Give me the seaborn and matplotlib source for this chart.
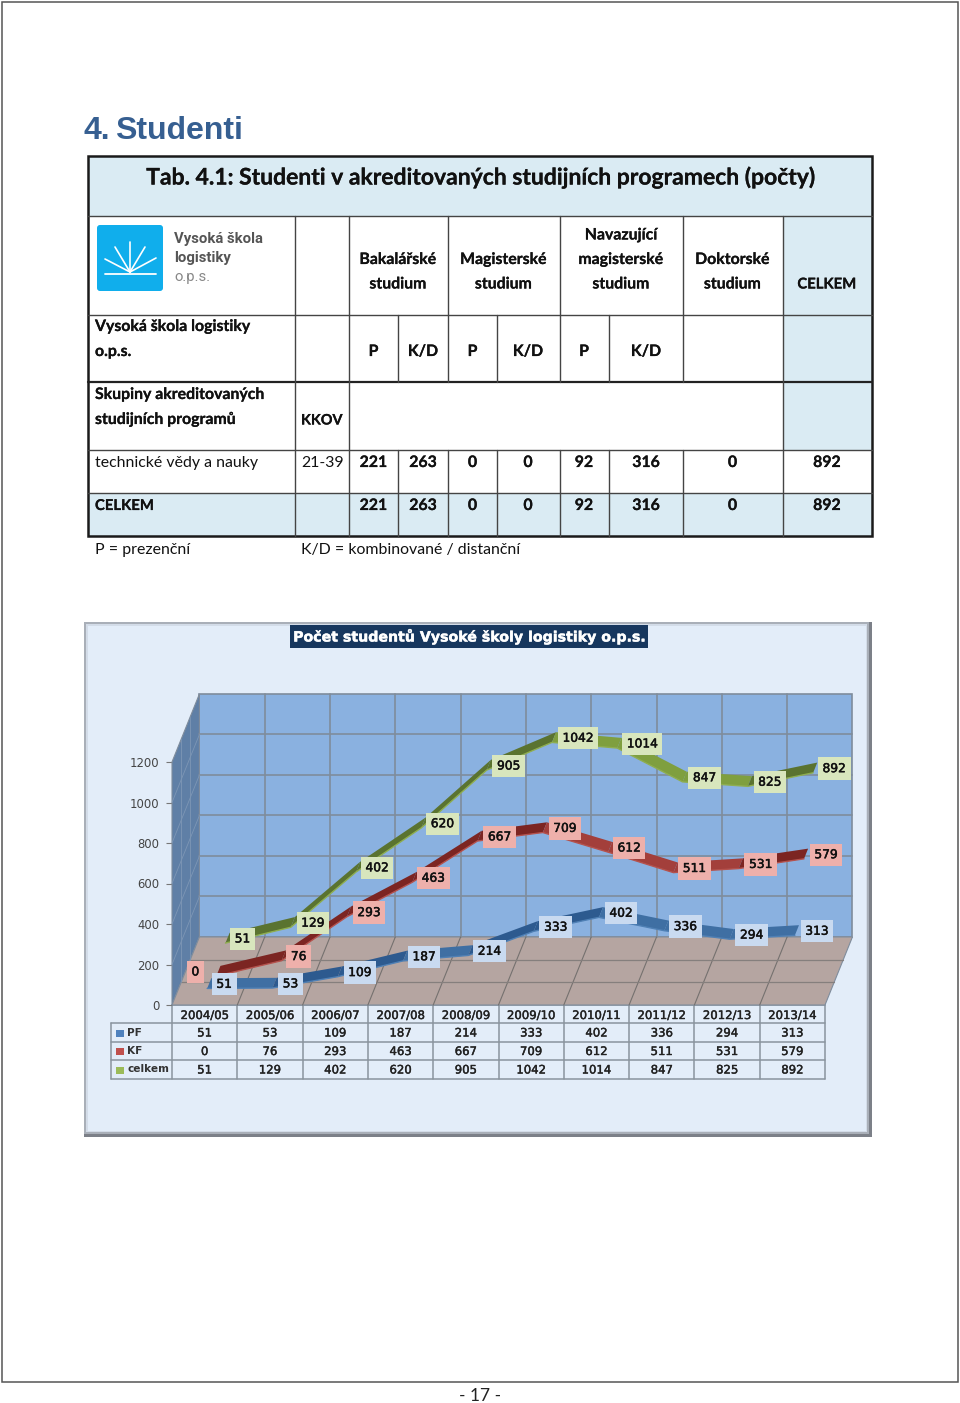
import numpy as np
import seaborn as sns
import matplotlib
matplotlib.use('Agg')
import matplotlib.pyplot as plt
import matplotlib.patheffects as pe
from matplotlib.patches import Rectangle, FancyBboxPatch

# chart data
years = ['2004/05', '2005/06', '2006/07', '2007/08', '2008/09', '2009/10', '2010/11', '2011/12', '2012/13', '2013/14']
pf = [51, 53, 109, 187, 214, 333, 402, 336, 294, 313]
kf = [0, 76, 293, 463, 667, 709, 612, 511, 531, 579]
celkem = [51, 129, 402, 620, 905, 1042, 1014, 847, 825, 892]
y_ticks = [0, 200, 400, 600, 800, 1000, 1200]

# label offsets in pixels from the data point
pf_dx = [15, 16, 20, 19, 19, 20, 20, 19, 20, 20]
kf_dx = [-23, 15, 20, 19, 20, 20, 19, 19, 20, 20]
celkem_dx = [15, 20, 19, 19, 20, 24, 23, 20, 20, 19]

# top table text
title = 'Tab. 4.1: Studenti v akreditovaných studijních programech (počty)'
col_heads = [(398, ['Bakalářské', 'studium']), (503.5, ['Magisterské', 'studium']),
             (621, ['Navazující', 'magisterské', 'studium']), (732.5, ['Doktorské', 'studium'])]
sub_heads = [(373.5, 'P'), (423, 'K/D'), (472.5, 'P'), (528, 'K/D'), (584, 'P'), (646, 'K/D')]
value_cols = [373.5, 423, 472.5, 528, 584, 646, 732.5, 827]
row_values = ['221', '263', '0', '0', '92', '316', '0', '892']

sns.set_theme(style='white')
plt.rcParams['font.family'] = ['Lato', 'DejaVu Sans']

fig = plt.figure(figsize=(9.6, 14.03), dpi=100, facecolor='white')
page = fig.add_axes([0, 0, 1, 1], zorder=1)
page.set_xlim(0, 960)
page.set_ylim(1403, 0)
page.axis('off')

# page frame and heading
page.add_patch(Rectangle((2, 2), 956, 1380, fill=False, ec='#555555', lw=1.1))
page.text(84, 139, '4.', fontsize=23, color='#365f91', fontweight='bold',
          family='Liberation Sans', ha='left', va='baseline')
page.text(115, 139, 'Studenti', fontsize=23, color='#365f91', fontweight='bold',
          family='Liberation Sans', ha='left', va='baseline')
page.text(480, 1396, '- 17 -', fontsize=12.5, color='#222222', ha='center', va='center')

# table fills
light = '#daebf3'
for x0, y0, x1, y1 in [(88, 156, 872, 216), (783, 216, 872, 382), (783, 382, 872, 450), (88, 493, 872, 536)]:
    page.add_patch(Rectangle((x0, y0), x1 - x0, y1 - y0, fc=light, ec='none'))

# table lines
line = '#444444'
for y in [216, 315, 450, 493]:
    page.plot([88, 872], [y, y], color=line, lw=1.0)
page.plot([88, 872], [382, 382], color='#222222', lw=1.6)
for x, y0, y1 in [(295, 216, 536), (349, 216, 536), (448, 216, 382), (560, 216, 382), (683, 216, 382),
                  (783, 216, 536), (398, 315, 382), (497, 315, 382), (609, 315, 382),
                  (398, 450, 536), (448, 450, 536), (497, 450, 536), (560, 450, 536),
                  (609, 450, 536), (683, 450, 536)]:
    page.plot([x, x], [y0, y1], color=line, lw=1.0)
page.add_patch(Rectangle((88, 156), 784, 380, fill=False, ec='#1a1a1a', lw=1.8))

# table text
cell = dict(fontsize=11.4, color='#111111', va='center')
heavy = dict(fontweight='bold', path_effects=[pe.withStroke(linewidth=0.15, foreground='#111111')])
page.text(480, 177.5, title, fontsize=16.5, color='#111111', ha='center', va='center', **heavy)
for x, lines in col_heads:
    for k, s in enumerate(reversed(lines)):
        page.text(x, 284.5 - 24.5 * k, s, ha='center', **cell, **heavy)
page.text(827, 284.5, 'CELKEM', ha='center', fontsize=10.7, color='#111111', va='center', **heavy)
page.text(95, 327, 'Vysoká škola logistiky', **cell, **heavy)
page.text(95, 352, 'o.p.s.', **cell, **heavy)
for x, s in sub_heads:
    page.text(x, 352, s, ha='center', **cell, **heavy)
page.text(95, 395, 'Skupiny akreditovaných', **cell, **heavy)
page.text(95, 420, 'studijních programů', **cell, **heavy)
page.text(301, 420.5, 'KKOV', fontsize=10.4, color='#111111', va='center', **heavy)
page.text(95, 463, 'technické vědy a nauky', **cell)
page.text(301, 463, '21-39', **cell)
page.text(95, 506, 'CELKEM', fontsize=10.7, color='#111111', va='center', **heavy)
for y in [463, 506]:
    for x, s in zip(value_cols, row_values):
        page.text(x, y, s, ha='center', **cell, **heavy)
page.text(95, 550, 'P = prezenční', **cell)
page.text(301, 550, 'K/D = kombinované / distanční', **cell)

# logo
page.add_patch(FancyBboxPatch((99, 227), 62, 62, boxstyle='round,pad=2,rounding_size=3', fc='#10aeec', ec='none'))
page.plot([105, 156], [273.5, 273.5], color='white', lw=1.3)
for rx, ry in [(130, 242), (115, 247), (145, 247), (105, 259), (156, 258)]:
    page.plot([130, rx], [272, ry], color='white', lw=1.2)
page.text(174, 239, 'Vysoká škola', fontsize=10.7, fontweight='bold', family='Roboto', color='#555555', va='center')
page.text(174, 258, 'logistiky', fontsize=10.7, fontweight='bold', family='Roboto', color='#555555', va='center')
page.text(174, 277, 'o.p.s.', fontsize=10.7, family='Roboto', color='#888888', va='center')

# chart panel
page.add_patch(Rectangle((84, 622), 788, 515, fc='#7c8088', ec='none'))
page.add_patch(Rectangle((84, 622), 785, 512, fc='#a9afb8', ec='none'))
page.add_patch(Rectangle((86, 624), 781, 508, fc='#d3dce8', ec='none'))
page.add_patch(Rectangle((88, 626), 778, 505, fc='#e3edf9', ec='none'))
page.add_patch(Rectangle((290, 625), 358, 23, fc='#17375e', ec='none'))
page.text(469, 636.5, 'Počet studentů Vysoké školy logistiky o.p.s.', fontsize=10.2, fontweight='bold',
          family='DejaVu Sans', color='white', ha='center', va='center',
          path_effects=[pe.withStroke(linewidth=0.3, foreground='white')])

# chart axes, the front plane of the 3d box
ax = fig.add_axes([172 / 960, 1 - 1005 / 1403, 653 / 960, 243 / 1403], zorder=2)
ax.patch.set_alpha(0)
DX, DY = 0.42, 336  # depth of the box in data units


def proj(x, y, d):
    return np.asarray(x, dtype=float) + DX * d, np.asarray(y, dtype=float) + DY * d


grid = '#7f8c9c'
xl, xr = -0.5, 9.5
# walls and floor
bx, by = proj([xl, xr, xr, xl], [0, 0, 1200, 1200], 1)
ax.fill(bx, by, fc='#8ab1e0', ec=grid, lw=1.2, clip_on=False, zorder=1)
lx = [xl, xl + DX, xl + DX, xl]
ly = [0, DY, 1200 + DY, 1200]
ax.fill(lx, ly, fc='#5f7fa6', ec=grid, lw=0.8, clip_on=False, zorder=1)
fx = [xl, xr, xr + DX, xl + DX]
fy = [0, 0, DY, DY]
ax.fill(fx, fy, fc='#b5a5a1', ec=grid, lw=0.8, clip_on=False, zorder=1)
for v in y_ticks[1:-1]:
    gx, gy = proj([xl, xr], [v, v], 1)
    ax.plot(gx, gy, color=grid, lw=1.2, clip_on=False, zorder=2)
    ax.plot(lx[:2], [v, v + DY], color='#7d96b5', lw=0.6, clip_on=False, zorder=2)
for k in range(1, 10):
    gx, gy = proj([xl + k, xl + k], [0, 1200], 1)
    ax.plot(gx, gy, color=grid, lw=1.2, clip_on=False, zorder=2)
    ax.plot([xl + k, xl + k + DX], [0, DY], color='#75716f', lw=0.8, clip_on=False, zorder=2)
for d in [1 / 3, 2 / 3]:
    gx, gy = proj([xl, xr], [0, 0], d)
    ax.plot(gx, gy, color='#857f7d', lw=0.9, clip_on=False, zorder=2)
    wx, wy = proj([xl, xl], [0, 1200], d)
    ax.plot(wx, wy, color='#7d96b5', lw=0.6, clip_on=False, zorder=2)

# ribbons
xs = np.arange(len(years))
series = [
    (celkem, 5 / 6, '#5a7330', '#7f9f3f', '#8fae4f', '#d8e6bd', celkem_dx),
    (kf, 3 / 6, '#7c2522', '#a33f3b', '#b5524d', '#eeb0ab', kf_dx),
    (pf, 1 / 6, '#2d5a8f', '#3f6fa3', '#4f80b5', '#c9daf0', pf_dx),
]
half = 0.075
for vals, d, dark, mid, edge, box, dxs in series:
    for i in range(len(vals) - 1):
        seg_x = [xs[i], xs[i + 1]]
        seg_y = [vals[i], vals[i + 1]]
        x0, y0 = proj(seg_x, seg_y, d - half)
        x1, y1 = proj(seg_x, seg_y, d + half)
        ax.fill(np.r_[x0, x1[::-1]], np.r_[y0, y1[::-1]], fc=dark if vals[i + 1] > vals[i] + 40 else mid,
                ec='none', clip_on=False, zorder=3)
    ex, ey = proj(xs, vals, d - half)
    sns.lineplot(x=ex, y=ey, color=edge, lw=1.0, sort=False, estimator=None, legend=False, ax=ax,
                 clip_on=False, zorder=4)
    px, py = proj(xs, vals, d)
    for i, v in enumerate(vals):
        ax.annotate(str(v), (px[i], py[i]), xytext=(dxs[i] * 0.72, -0.7), textcoords='offset points',
                    ha='center', va='center', fontsize=8.8, family='DejaVu Sans', color='#111111',
                    path_effects=[pe.withStroke(linewidth=0.35, foreground='#111111')],
                    bbox=dict(boxstyle='square,pad=0.38', fc=box, ec='none'), zorder=6, annotation_clip=False)

ax.set_xlim(xl, xr)
ax.set_ylim(0, 1200)
ax.set_xlabel('')
ax.set_ylabel('')
ax.set_xticks([])
ax.set_yticks(y_ticks)
ax.tick_params(axis='y', left=True, length=4, width=0.8, color='#777777', pad=5, labelsize=8.4,
               labelcolor='#444444', labelfontfamily='DejaVu Sans')
sns.despine(ax=ax, left=True, bottom=True)

# data table under the chart
tc = '#8a949e'
col_w = 653 / 10
row_y = [1005, 1023, 1042, 1060, 1079]
tx = dict(fontsize=8.4, family='DejaVu Sans', color='#222222', ha='center', va='center',
          path_effects=[pe.withStroke(linewidth=0.3, foreground='#222222')])
page.add_patch(Rectangle((172, 1005), 653, 18, fc='#e3edf9', ec='none', zorder=3))
page.plot([172, 825], [1005, 1005], color=tc, lw=1.1, zorder=4)
for y in row_y[1:]:
    page.plot([111, 825], [y, y], color=tc, lw=1.1, zorder=4)
page.plot([111, 111], [1023, 1079], color=tc, lw=1.1, zorder=4)
for k in range(11):
    page.plot([172 + k * col_w] * 2, [1005, 1079], color=tc, lw=1.1, zorder=4)
for k, s in enumerate(years):
    page.text(172 + (k + 0.5) * col_w, 1015.5, s, **tx)
rows = [('PF', pf, '#4f81bd'), ('KF', kf, '#c0504d'), ('celkem', celkem, '#9bbb59')]
for r, (name, vals, key) in enumerate(rows):
    yc = (row_y[r + 1] + row_y[r + 2]) / 2 + 0.5
    page.add_patch(Rectangle((116, yc - 3.5), 8, 7, fc=key, ec='none', zorder=4))
    page.text(127, yc - 0.5, name, fontsize=7.6, fontweight='bold', family='DejaVu Sans', color='#333333',
              va='center', zorder=4)
    for k, v in enumerate(vals):
        page.text(172 + (k + 0.5) * col_w, yc, str(v), **tx)

fig.savefig('out.png', dpi=100)
